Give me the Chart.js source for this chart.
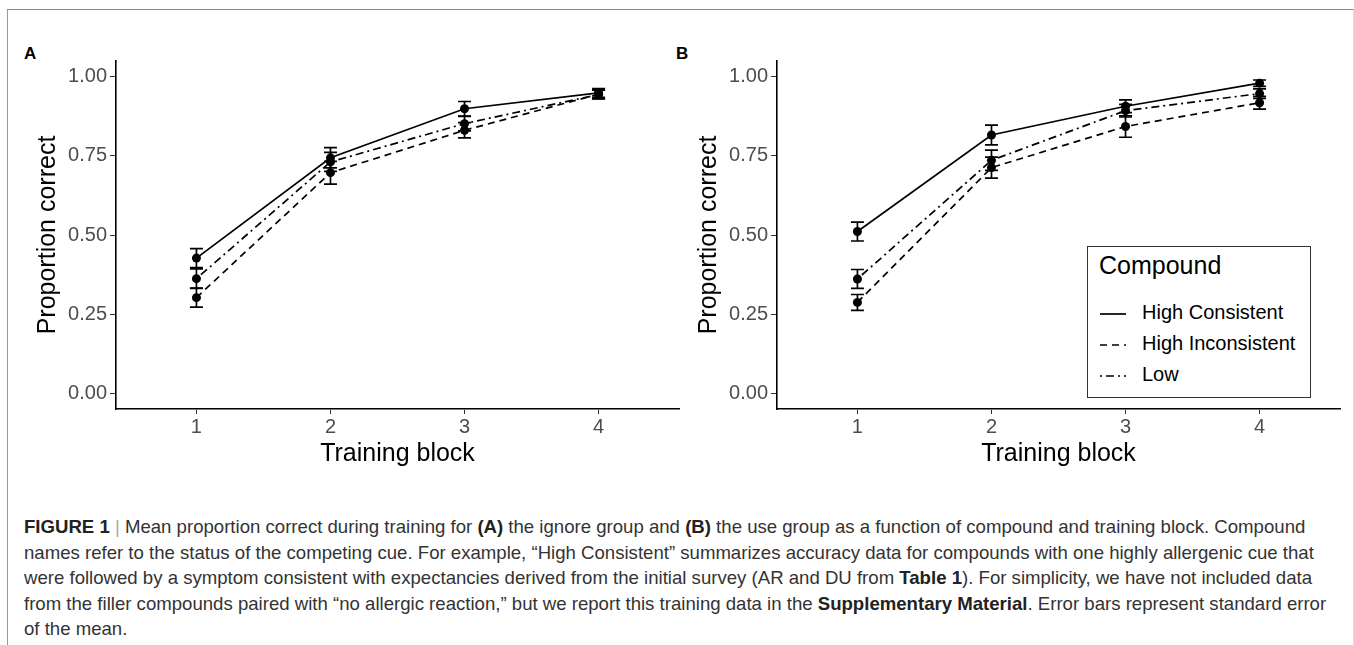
<!DOCTYPE html>
<html>
<head>
<meta charset="utf-8">
<script src="https://cdn.jsdelivr.net/npm/chart.js@4.4.1/dist/chart.umd.min.js"></script>
<style>
    body { margin: 0; background: #fff; width: 1354px; height: 645px; overflow: hidden; position: relative; font-family: "Liberation Sans", Arial, sans-serif; }
    #frame { position: absolute; left: 7px; top: 9px; width: 1345px; height: 700px; border-top: 1.5px solid #8a8a8a; border-left: 1px solid #9a9a9a; border-right: 1px solid #dcdcdc; }
    canvas { position: absolute; }
    .panelTag { position: absolute; font-weight: bold; font-size: 17px; color: #000; }
    #legendBox { position: absolute; left: 1087px; top: 246px; width: 222px; height: 150px; border: 1px solid #333; background: #fff; }
    #legendBox .ttl { position: absolute; left: 11px; top: 4px; font-size: 25px; color: #000; }
    #legendBox .row { position: absolute; left: 12px; height: 24px; font-size: 20px; color: #000; line-height: 24px; }
    #legendBox .row svg { vertical-align: middle; margin-right: 16px; }
    #caption { position: absolute; left: 24px; top: 514px; font-size: 18.6px; line-height: 25.6px; color: #333; white-space: nowrap; }
    #caption b { color: #222; }
    #caption .bar { color: #aaa; font-weight: normal; }
</style>
</head>
<body>
<div id="frame"></div>
<div class="panelTag" style="left:24px; top:44px">A</div>
<div class="panelTag" style="left:676px; top:44px">B</div>
<canvas id="chartA" width="690" height="440" style="left:0px; top:40px"></canvas>
<canvas id="chartB" width="694" height="440" style="left:660px; top:40px"></canvas>

<div id="legendBox">
    <div class="ttl">Compound</div>
    <div class="row" style="top:53px"><svg width="26" height="4"><line x1="0" y1="2" x2="26" y2="2" stroke="#000" stroke-width="1.7"/></svg>High Consistent</div>
    <div class="row" style="top:84px"><svg width="26" height="4"><line x1="0" y1="2" x2="26" y2="2" stroke="#000" stroke-width="1.7" stroke-dasharray="7 5"/></svg>High Inconsistent</div>
    <div class="row" style="top:115px"><svg width="26" height="4"><line x1="0" y1="2" x2="26" y2="2" stroke="#000" stroke-width="1.7" stroke-dasharray="2 4 8 4"/></svg>Low</div>
</div>

<div id="caption">
<b>FIGURE 1</b> <span class="bar">|</span> Mean proportion correct during training for <b>(A)</b> the ignore group and <b>(B)</b> the use group as a function of compound and training block. Compound<br>
names refer to the status of the competing cue. For example, “High Consistent” summarizes accuracy data for compounds with one highly allergenic cue that<br>
were followed by a symptom consistent with expectancies derived from the initial survey (AR and DU from <b>Table 1</b>). For simplicity, we have not included data<br>
from the filler compounds paired with “no allergic reaction,” but we report this training data in the <b>Supplementary Material</b>. Error bars represent standard error<br>
of the mean.
</div>

<script>
// training blocks on the x axis
let blocks = [1, 2, 3, 4]
let yTicks = [0, 0.25, 0.5, 0.75, 1]
let seriesNames = ["High Consistent", "High Inconsistent", "Low"]

// panel A - ignore group
let aHighConsistent = [0.427, 0.744, 0.899, 0.949]
let aHighConsistentSE = [0.030, 0.032, 0.023, 0.014]
let aHighInconsistent = [0.302, 0.697, 0.831, 0.945]
let aHighInconsistentSE = [0.030, 0.036, 0.024, 0.014]
let aLow = [0.362, 0.731, 0.852, 0.944]
let aLowSE = [0.031, 0.030, 0.023, 0.014]

// panel B - use group
let bHighConsistent = [0.511, 0.816, 0.907, 0.980]
let bHighConsistentSE = [0.030, 0.031, 0.020, 0.010]
let bHighInconsistent = [0.287, 0.713, 0.843, 0.918]
let bHighInconsistentSE = [0.025, 0.033, 0.034, 0.020]
let bLow = [0.361, 0.736, 0.893, 0.947]
let bLowSE = [0.030, 0.032, 0.020, 0.015]

let dashes = [[], [7, 5], [2, 4, 8, 4]]

// draws the vertical error bars with caps from the se arrays
const errorBars = {
    id: "errorBars",
    beforeDatasetsDraw(chart) {
        let ctx = chart.ctx
        let xs = chart.scales.x
        let ys = chart.scales.y
        ctx.save()
        ctx.strokeStyle = "#000"
        ctx.lineWidth = 1.7
        ctx.setLineDash([])
        chart.data.datasets.forEach(ds => {
            ds.data.forEach((p, i) => {
                let px = xs.getPixelForValue(p.x)
                let top = ys.getPixelForValue(p.y + ds.se[i])
                let bot = ys.getPixelForValue(p.y - ds.se[i])
                ctx.beginPath()
                ctx.moveTo(px, top)
                ctx.lineTo(px, bot)
                ctx.moveTo(px - 6.5, top)
                ctx.lineTo(px + 6.5, top)
                ctx.moveTo(px - 6.5, bot)
                ctx.lineTo(px + 6.5, bot)
                ctx.stroke()
            })
        })
        ctx.restore()
    }
}

function makeDatasets(values, errors) {
    return values.map((vals, k) => ({
        label: seriesNames[k],
        data: vals.map((v, i) => ({ x: blocks[i], y: v })),
        se: errors[k],
        borderColor: "#000",
        borderWidth: 1.7,
        borderDash: dashes[k],
        pointRadius: 4.5,
        pointBackgroundColor: "#000",
        pointBorderWidth: 0,
        tension: 0,
        fill: false
    }))
}

function makeChart(id, datasets, yWidth, titlePad, padRight, xHeight) {
    return new Chart(document.getElementById(id), {
        type: "line",
        data: { datasets: datasets },
        options: {
            responsive: false,
            animation: false,
            layout: { padding: { top: 21, right: padRight, left: 0, bottom: 0 } },
            plugins: { legend: { display: false }, tooltip: { enabled: false } },
            scales: {
                x: {
                    type: "linear",
                    min: 0.4,
                    max: 4.6,
                    afterBuildTicks: s => { s.ticks = blocks.map(v => ({ value: v })) },
                    afterFit: s => { s.height = xHeight },
                    grid: { drawOnChartArea: false, drawTicks: true, tickLength: 5, color: "#333", tickWidth: 1 },
                    border: { display: true, color: "#000", width: 1.6 },
                    ticks: { color: "#4d4d4d", font: { family: "Liberation Sans", size: 20 }, padding: 1 },
                    title: { display: true, text: "Training block", color: "#000", font: { family: "Liberation Sans", size: 25 }, padding: { top: 0, bottom: 11 } }
                },
                y: {
                    min: -0.05,
                    max: 1.05,
                    afterBuildTicks: s => { s.ticks = yTicks.map(v => ({ value: v })) },
                    afterFit: s => { s.width = yWidth },
                    grid: { drawOnChartArea: false, drawTicks: true, tickLength: 6, color: "#333", tickWidth: 1 },
                    border: { display: true, color: "#000", width: 1.6 },
                    ticks: { color: "#4d4d4d", font: { family: "Liberation Sans", size: 20 }, padding: 3, callback: v => v.toFixed(2) },
                    title: { display: true, text: "Proportion correct", color: "#000", font: { family: "Liberation Sans", size: 25 }, padding: { top: titlePad, bottom: 0 } }
                }
            }
        },
        plugins: [errorBars]
    })
}

makeChart("chartA",
    makeDatasets([aHighConsistent, aHighInconsistent, aLow], [aHighConsistentSE, aHighInconsistentSE, aLowSE]),
    116, 33, 11, 71)

makeChart("chartB",
    makeDatasets([bHighConsistent, bHighInconsistent, bLow], [bHighConsistentSE, bHighInconsistentSE, bLowSE]),
    117, 34, 14, 71)
</script>
</body>
</html>
